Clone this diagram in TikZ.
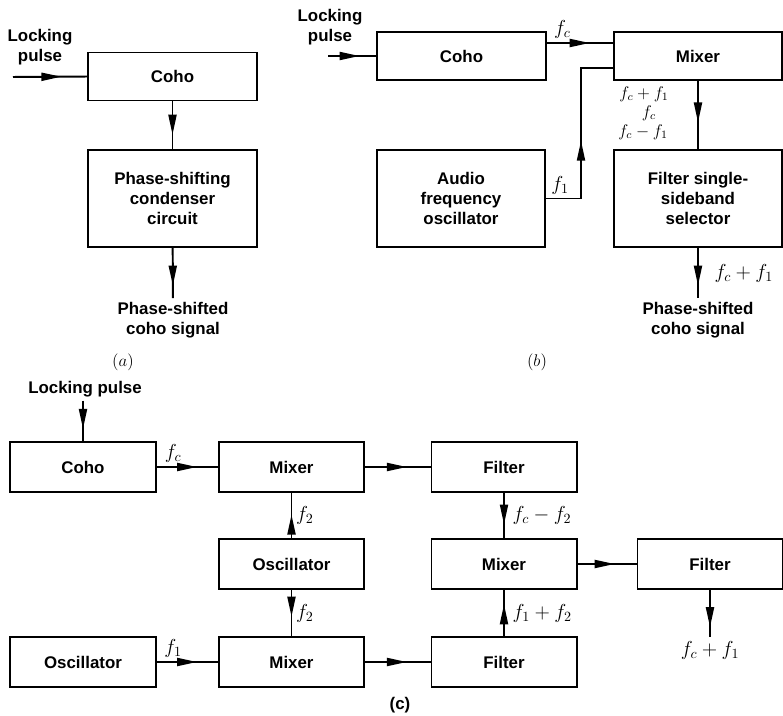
\documentclass[tikz,border=0pt]{standalone}
\usepackage{fontspec}
\setmainfont{Liberation Sans}
\usepackage{tikz}
\usetikzlibrary{arrows.meta,decorations.markings}
\tikzset{lbl/.style={draw=none, fill=none, minimum size=0pt,
  inner sep=2.5pt, font=\fontsize{14}{15}\selectfont},
  txt/.style={align=center, inner sep=2pt, font=\fontsize{12}{14.5}\selectfont\bfseries},
  blk/.style={txt, draw, rectangle},
  blkab/.style={blk, minimum width=4.2cm, minimum height=1.2cm},
  blktall/.style={blk, minimum width=4.2cm, minimum height=2.425cm},
  blkc/.style={blk, minimum width=3.625cm, minimum height=1.25cm},
  midarr/.style={postaction={decorate}, decoration={markings,
    mark=at position #1 with {\arrow{Triangle[length=5mm, width=2mm]}}}},
  midarr/.default=0.65}

\begin{document}
\begin{tikzpicture}[x=0.025cm, y=-0.025cm, line width=1.4pt, >=Stealth]
  \useasboundingbox (0,0) rectangle (783,716);
  \node[blkab] (cohoA) at (172.5,76.5) {Coho};
  \node[blktall] (shiftA) at (172.5,198.5) {Phase-shifting\\condenser\\circuit};
  \node[txt] (lockA) at (40,47) {Locking\\pulse};
  \node[txt] (outA) at (173,320) {Phase-shifted\\coho signal};
  \node[txt] (capA) at (123,362) {$(a)$};
  \coordinate (inA) at (13,77);
  \draw[midarr] (inA) -- (cohoA.west);
  \draw[midarr=0.7] (cohoA) -- (shiftA);
  \draw[midarr=0.75] (shiftA) -- (outA);

  \node[blkab] (cohoB) at (461.5,56) {Coho};
  \node[blkab] (mixB) at (698,56) {Mixer};
  \node[blktall] (audioB) at (461,198.5) {Audio\\frequency\\oscillator};
  \node[blktall] (filtB) at (698,198.5) {Filter single-\\sideband\\selector};
  \node[txt] (lockB) at (330,27) {Locking\\pulse};
  \node[txt] (outB) at (698,320) {Phase-shifted\\coho signal};
  \node[txt] (capB) at (537,362) {$(b)$};
  \coordinate (inB) at (328,56);
  \draw[midarr] (inB) -- (cohoB.west);
  \draw[midarr] ([yshift=3.25mm]cohoB.east) -- node[lbl, above, pos=0.24] {$f_c$}
    ([yshift=3.25mm]mixB.west);
  \draw[midarr=0.47] (audioB.east) -- node[lbl, above, pos=0.4] {$f_1$} ++(35,0)
    |- ([yshift=-3mm]mixB.west);
  \draw[midarr=0.61] (mixB) -- (filtB);
  \draw[midarr=0.75] (filtB) -- node[lbl, right, xshift=3mm] {$f_c+f_1$} (outB);
  \node[lbl, font=\fontsize{12}{13}\selectfont] (fsum) at (644,94) {$f_c+f_1$};
  \node[lbl, font=\fontsize{12}{13}\selectfont] (fcar) at (649,113) {$f_c$};
  \node[lbl, font=\fontsize{12}{13}\selectfont] (fdif) at (643,132) {$f_c-f_1$};

  \node[txt] (lockC) at (85,389) {Locking pulse};
  \node[blkc] (cohoC) at (83,467) {Coho};
  \node[blkc] (mixC1) at (291.5,467) {Mixer};
  \node[blkc] (filtC1) at (504,467) {Filter};
  \node[blkc] (oscC2) at (291.5,564) {Oscillator};
  \node[blkc] (mixC3) at (504,564) {Mixer};
  \node[blkc] (filtC3) at (710,564) {Filter};
  \node[blkc] (oscC1) at (83,662) {Oscillator};
  \node[blkc] (mixC2) at (291.5,662) {Mixer};
  \node[blkc] (filtC2) at (504,662) {Filter};
  \node[lbl] (outC) at (710,650) {$f_c+f_1$};
  \node[txt] (capC) at (400,705) {(c)};
  \draw[midarr=0.7] (cohoC.north |- lockC.south) -- (cohoC.north);
  \draw[midarr=0.66] (cohoC) -- node[lbl, above, pos=0.27] {$f_c$} (mixC1);
  \draw[midarr=0.64] (mixC1) -- (filtC1);
  \draw[midarr=0.52] (oscC2) -- node[lbl, right] {$f_2$} (mixC1);
  \draw[midarr=0.58] (oscC2) -- node[lbl, right] {$f_2$} (mixC2);
  \draw[midarr=0.66] (oscC1) -- node[lbl, above, pos=0.27] {$f_1$} (mixC2);
  \draw[midarr=0.64] (mixC2) -- (filtC2);
  \draw[midarr=0.7] (filtC1) -- node[lbl, right, xshift=1mm] {$f_c-f_2$} (mixC3);
  \draw[midarr=0.69] (filtC2) -- node[lbl, right, xshift=1mm] {$f_1+f_2$} (mixC3);
  \draw[midarr=0.63] (mixC3) -- (filtC3);
  \draw[midarr=0.8] (filtC3) -- (outC);
\end{tikzpicture}
\end{document}
